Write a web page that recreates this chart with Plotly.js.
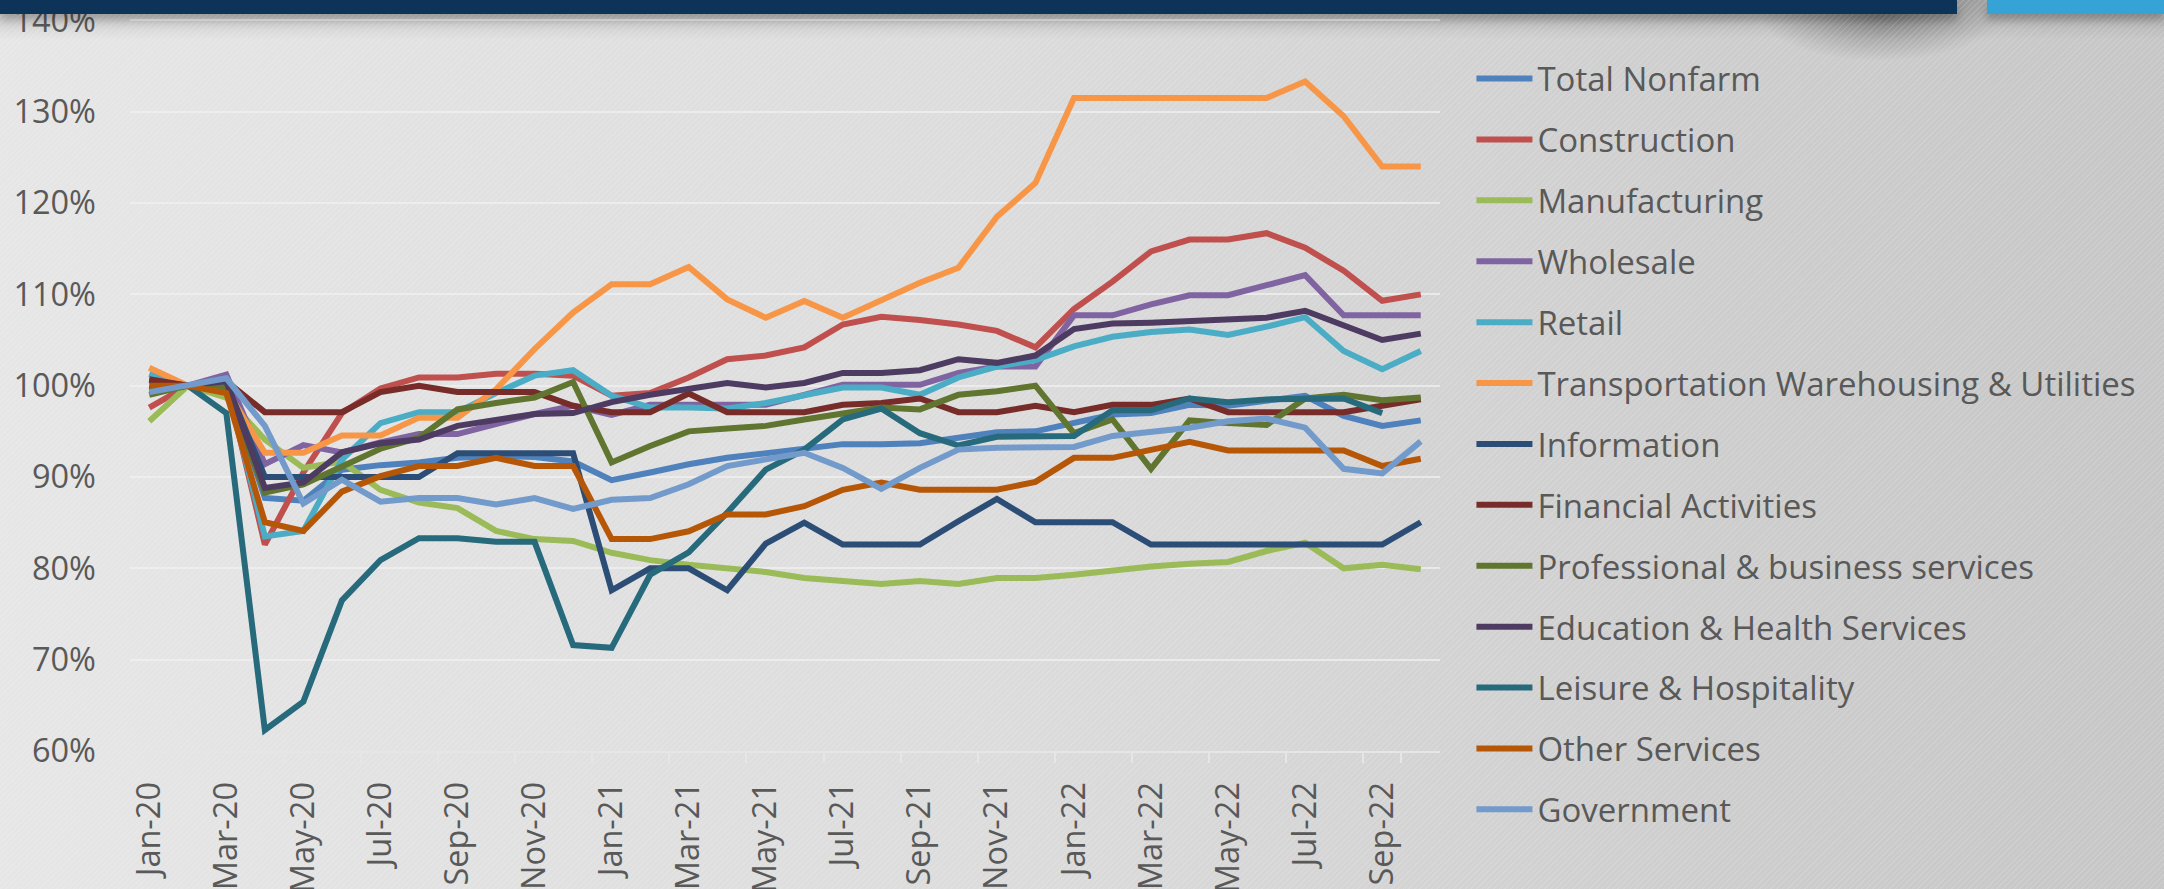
<!DOCTYPE html>
<html>
<head>
<meta charset="utf-8">
<script src="https://cdn.plot.ly/plotly-3.0.1.min.js"></script>
<style>
  html, body { margin: 0; padding: 0; }
  body {
    width: 2164px; height: 889px; overflow: hidden; position: relative;
    background:
      repeating-linear-gradient(135deg, rgba(255,255,255,0.13) 0px, rgba(255,255,255,0.13) 1px, rgba(0,0,0,0) 1.5px, rgba(0,0,0,0) 4px),
      radial-gradient(ellipse 120px 45px at 1880px 16px, rgba(0,0,0,0.32), rgba(0,0,0,0) 100%),
      linear-gradient(to bottom, rgba(0,0,0,0.18) 0px, rgba(0,0,0,0) 40px),
      linear-gradient(to right, #e6e6e6 0%, #dcdcdc 45%, #cdcdcd 80%, #c6c6c6 100%);
  }
  #navy { position: absolute; left: 0; top: 0; width: 1957px; height: 14px; background: #0e3358; box-shadow: 0 6px 10px rgba(0,0,0,0.25); z-index: 2; }
  #cyan { position: absolute; left: 1987px; top: 0; width: 177px; height: 14px; background: #35a3d5; box-shadow: 0 6px 8px rgba(0,0,0,0.25); z-index: 2; }
  #chart { position: absolute; left: 0; top: 0; width: 2164px; height: 889px; z-index: 1; }
</style>
</head>
<body>
<div id="navy"></div>
<div id="cyan"></div>
<div id="chart"></div>
<script>
const months = ["Jan-20","Feb-20","Mar-20","Apr-20","May-20","Jun-20","Jul-20","Aug-20","Sep-20","Oct-20","Nov-20","Dec-20",
  "Jan-21","Feb-21","Mar-21","Apr-21","May-21","Jun-21","Jul-21","Aug-21","Sep-21","Oct-21","Nov-21","Dec-21",
  "Jan-22","Feb-22","Mar-22","Apr-22","May-22","Jun-22","Jul-22","Aug-22","Sep-22","Oct-22"];

const seriesNames = ["Total Nonfarm","Construction","Manufacturing","Wholesale","Retail",
  "Transportation Warehousing & Utilities","Information","Financial Activities",
  "Professional & business services","Education & Health Services","Leisure & Hospitality",
  "Other Services","Government"];

const totalNonfarm = [0.995,1.0,1.004,0.877,0.874,0.908,0.913,0.916,0.921,0.923,0.922,0.917,
  0.8965,0.905,0.914,0.921,0.9265,0.931,0.936,0.936,0.937,0.943,0.949,0.950,
  0.9586,0.9685,0.970,0.979,0.978,0.983,0.989,0.967,0.956,0.962];
const construction = [0.976,1.0,1.005,0.826,0.905,0.970,0.997,1.009,1.009,1.013,1.013,1.011,
  0.989,0.992,1.009,1.029,1.033,1.042,1.067,1.0755,1.072,1.067,1.060,1.042,
  1.084,1.114,1.147,1.16,1.16,1.167,1.151,1.126,1.093,1.10];
const manufacturing = [0.961,1.0,0.987,0.941,0.91,0.917,0.886,0.872,0.866,0.841,0.832,0.830,
  0.817,0.809,0.804,0.800,0.796,0.7895,0.786,0.783,0.786,0.783,0.7895,0.7895,
  0.793,0.798,0.802,0.805,0.807,0.819,0.828,0.800,0.804,0.799];
const wholesale = [0.995,1.0,1.012,0.914,0.935,0.927,0.938,0.947,0.947,0.958,0.969,0.978,
  0.968,0.979,0.979,0.979,0.979,0.990,1.001,1.001,1.001,1.014,1.021,1.021,
  1.077,1.077,1.089,1.099,1.099,1.11,1.121,1.077,1.077,1.077];
const retail = [1.013,1.0,1.003,0.835,0.841,0.919,0.959,0.971,0.971,0.992,1.011,1.017,
  0.989,0.976,0.976,0.975,0.981,0.989,0.998,0.998,0.990,1.009,1.021,1.028,
  1.043,1.0536,1.0587,1.0616,1.0555,1.0646,1.075,1.038,1.018,1.038];
const transportation = [1.0196,1.0,0.996,0.9265,0.9265,0.9455,0.9455,0.965,0.965,0.996,1.04,1.08,
  1.111,1.111,1.130,1.0945,1.0744,1.0927,1.0744,1.0945,1.1128,1.129,1.185,1.222,
  1.315,1.315,1.315,1.315,1.315,1.315,1.333,1.295,1.24,1.24];
const information = [1.006,1.0,1.003,0.90,0.90,0.90,0.90,0.90,0.926,0.926,0.926,0.926,
  0.776,0.80,0.80,0.776,0.827,0.850,0.826,0.826,0.826,0.8516,0.876,0.8505,
  0.8505,0.8505,0.826,0.826,0.826,0.826,0.826,0.826,0.826,0.8505];
const financial = [1.007,1.0,1.005,0.971,0.971,0.971,0.993,1.0,0.993,0.993,0.993,0.978,
  0.971,0.971,0.9915,0.971,0.971,0.971,0.979,0.981,0.986,0.971,0.971,0.978,
  0.971,0.979,0.979,0.986,0.971,0.971,0.971,0.971,0.978,0.985];
const professional = [0.99,1.0,0.998,0.883,0.892,0.912,0.931,0.943,0.974,0.981,0.987,1.004,
  0.916,0.934,0.950,0.953,0.956,0.963,0.970,0.976,0.974,0.990,0.994,1.0,
  0.948,0.963,0.909,0.962,0.959,0.957,0.986,0.990,0.984,0.987];
const education = [0.997,1.0,1.005,0.888,0.894,0.927,0.937,0.941,0.956,0.963,0.969,0.970,
  0.982,0.990,0.996,1.003,0.998,1.003,1.014,1.014,1.017,1.029,1.025,1.033,
  1.062,1.068,1.069,1.071,1.0715,1.0744,1.082,1.066,1.050,1.057];
const leisure = [0.995,1.0,0.970,0.623,0.654,0.765,0.809,0.833,0.833,0.829,0.829,0.716,
  0.713,0.793,0.8176,0.861,0.908,0.930,0.963,0.975,0.948,0.9345,0.944,0.945,
  0.945,0.973,0.973,0.986,0.982,0.985,0.986,0.986,0.970,null];
const otherServices = [1.0,1.0,0.992,0.8505,0.841,0.884,0.901,0.912,0.912,0.921,0.912,0.912,
  0.832,0.832,0.8406,0.859,0.859,0.868,0.886,0.894,0.886,0.886,0.886,0.8947,
  0.921,0.921,0.930,0.9385,0.929,0.929,0.929,0.929,0.912,0.920];
const government = [0.993,1.0,1.008,0.956,0.871,0.897,0.873,0.877,0.877,0.870,0.877,0.865,
  0.875,0.877,0.892,0.912,0.919,0.9265,0.910,0.887,0.910,0.930,0.932,0.933,
  0.933,0.945,0.949,0.954,0.961,0.964,0.954,0.909,0.904,0.939];

const seriesValues = [totalNonfarm, construction, manufacturing, wholesale, retail, transportation,
  information, financial, professional, education, leisure, otherServices, government];
const seriesColors = ["#4f81bd","#c0504d","#9bbb59","#8064a2","#4bacc6","#f79646",
  "#2c4d75","#772c2a","#5f7530","#4d3b62","#276a7c","#b65708","#729aca"];

const tickLabels = months.filter((m, i) => i % 2 === 0);
const yTicks = [0.6, 0.7, 0.8, 0.9, 1.0, 1.1, 1.2, 1.3, 1.4];

const traces = seriesNames.map((name, k) => ({
  type: "scatter", mode: "lines", name: name, x: months, y: seriesValues[k],
  legendgroup: "g" + k,
  line: { color: seriesColors[k], width: 6 },
  connectgaps: false
}));

const font = "'Open Sans', 'DejaVu Sans', sans-serif";
const layout = {
  width: 2164, height: 889,
  paper_bgcolor: "rgba(0,0,0,0)", plot_bgcolor: "rgba(0,0,0,0)",
  margin: { l: 130, r: 724, t: 19, b: 138, pad: 0 },
  showlegend: true,
  legend: {
    x: 1.024, xanchor: "left", y: 0.9568, yanchor: "top",
    font: { family: font, size: 33, color: "#595959" },
    bgcolor: "rgba(0,0,0,0)", borderwidth: 0,
    itemwidth: 56, tracegroupgap: 15, traceorder: "grouped",
    maxheight: 2000
  },
  xaxis: {
    type: "category", categoryorder: "array", categoryarray: months,
    range: [-0.5, 33.5],
    tickmode: "array", tickvals: tickLabels, ticktext: tickLabels,
    tickangle: -90, tickson: "boundaries",
    ticks: "outside", ticklen: 10, tickcolor: "#e6e6e6", tickwidth: 2,
    showline: true, linecolor: "#e6e6e6", linewidth: 2,
    showgrid: false, zeroline: false,
    ticklabelstandoff: 16,
    tickfont: { family: font, size: 32.5, color: "#595959" }
  },
  yaxis: {
    range: [0.6, 1.4015], tickmode: "array", tickvals: yTicks, tickformat: ".0%",
    showgrid: true, gridcolor: "rgba(240,240,240,0.75)", gridwidth: 2,
    zeroline: false, showline: false, ticks: "",
    ticklabelstandoff: 33, ticklabeloverflow: "allow",
    tickfont: { family: font, size: 32.5, color: "#595959" }
  }
};

Plotly.newPlot("chart", traces, layout, { displayModeBar: false, staticPlot: true });
</script>
</body>
</html>
